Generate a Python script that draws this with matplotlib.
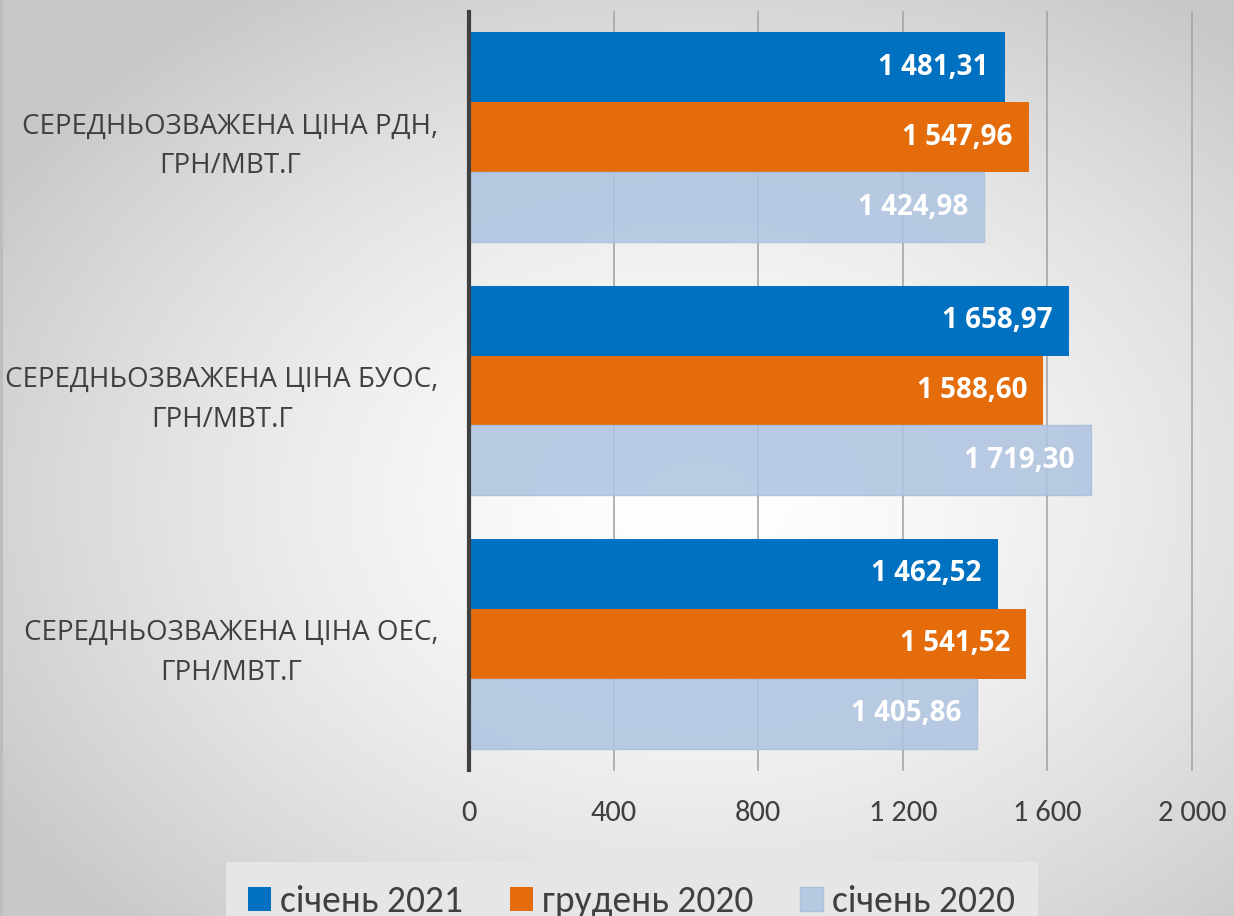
import numpy as np
import matplotlib.pyplot as plt
from matplotlib.ticker import FuncFormatter

categories = ['СЕРЕДНЬОЗВАЖЕНА ЦІНА РДН,\nГРН/МВТ.Г',
              'СЕРЕДНЬОЗВАЖЕНА ЦІНА БУОС,\nГРН/МВТ.Г',
              'СЕРЕДНЬОЗВАЖЕНА ЦІНА ОЕС,\nГРН/МВТ.Г']
series_names = ['січень 2021', 'грудень 2020', 'січень 2020']
jan_2021 = [1481.31, 1658.97, 1462.52]
dec_2020 = [1547.96, 1588.60, 1541.52]
jan_2020 = [1424.98, 1719.30, 1405.86]
colors = ['#0070c0', '#e46c0a', '#b0c5e1']


def fmt_num(v, dec=2):
    s = f'{v:,.{dec}f}'
    return s.replace(',', ' ').replace('.', ',')


fig = plt.figure(figsize=(12.34, 9.16), dpi=100)

# background: light radial gradient, white in the middle
bg = fig.add_axes([0, 0, 1, 1], zorder=-10)
xx, yy = np.meshgrid(np.linspace(0, 1234, 400), np.linspace(0, 916, 300))
r = np.sqrt(((xx - 700) / 760) ** 2 + ((yy - 500) / 560) ** 2)
g = 1.0 - 0.19 * np.clip(r, 0, 1.1) ** 1.5
bg.imshow(np.dstack([g, g, g]), extent=[0, 1, 0, 1], aspect='auto', origin='upper')
bg.axvline(0.001, color='#bdbdbd', lw=3)
bg.set_xlim(0, 1)
bg.axis('off')

ax = fig.add_axes([0.380, 0.159, 0.586, 0.828])
ax.patch.set_alpha(0)

data = [jan_2021, dec_2020, jan_2020]
y = np.arange(len(categories))
h = 0.276
offsets = [-h, 0, h]
alphas = [1, 1, 0.88]
for i, vals in enumerate(data):
    bars = ax.barh(y + offsets[i], vals, height=h, color=colors[i], alpha=alphas[i],
                   label=series_names[i], zorder=3,
                   edgecolor='#a9bfdc' if i == 2 else 'none', linewidth=1)
    for b, v in zip(bars, vals):
        ax.text(v - 45, b.get_y() + b.get_height() / 2, fmt_num(v),
                ha='right', va='center', color='white', fontsize=20,
                fontweight='bold', family='Open Sans', zorder=4)

ax.set_xlim(0, 2000)
ax.set_ylim(2.5, -0.495)
ax.set_xticks([0, 400, 800, 1200, 1600, 2000])
ax.xaxis.set_major_formatter(FuncFormatter(lambda v, p: fmt_num(v, 0)))
ax.grid(axis='x', color='#a6a6a6', linewidth=1.2, zorder=0)
for gl in ax.get_xgridlines():
    gl.set_clip_on(False)
ax.set_yticks(y)
ax.set_yticklabels(categories, fontsize=20, color='#404040', family='Open Sans',
                   linespacing=1.55)
for lbl in ax.get_yticklabels():
    lbl.set_multialignment('center')
ax.tick_params(axis='y', length=0, pad=22)
ax.tick_params(axis='x', length=0, pad=21, labelsize=22, labelcolor='#404040')
for lbl in ax.get_xticklabels():
    lbl.set_family('Carlito')
for s in ['top', 'right', 'bottom']:
    ax.spines[s].set_visible(False)
ax.spines['left'].set_color('#404040')
ax.spines['left'].set_linewidth(3)
ax.spines['left'].set_zorder(5)

leg = fig.legend(loc='center', bbox_to_anchor=(0.512, 0.016), ncol=3, frameon=True,
                 prop={'family': 'Carlito', 'size': 27},
                 handlelength=0.6, handleheight=0.6, handletextpad=0.25,
                 columnspacing=1.25, borderpad=0.6, borderaxespad=0,
                 fancybox=False)
leg.get_frame().set_facecolor('#e6e6e6')
leg.get_frame().set_edgecolor('none')
leg.get_frame().set_alpha(1)
for t in leg.get_texts():
    t.set_color('#404040')

fig.savefig('out.png', dpi=100)
